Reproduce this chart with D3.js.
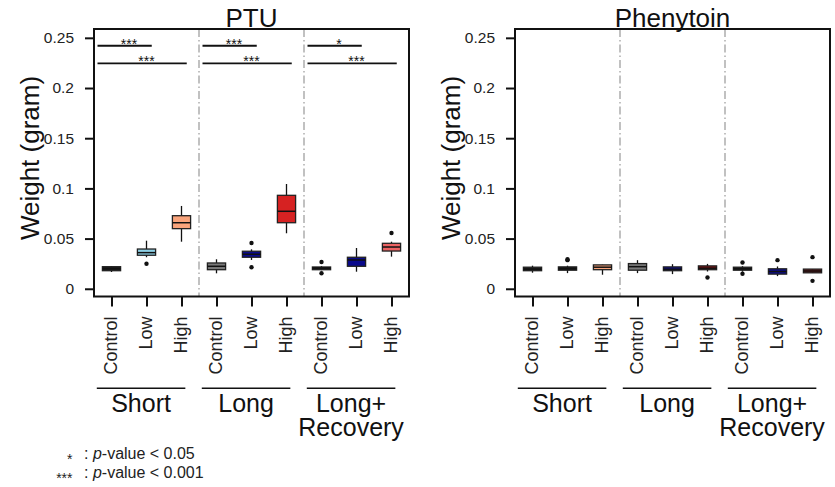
<!DOCTYPE html>
<html>
<head>
<meta charset="utf-8">
<script src="https://cdn.jsdelivr.net/npm/d3@7"></script>
<style>
  body { margin: 0; background: #fff; }
  svg { display: block; font-family: "Liberation Sans", Arial, sans-serif; }
</style>
</head>
<body>
<svg width="835" height="487"></svg>
<script>
// categories and groups
const categories = ["Control", "Low", "High"];
const groups = [["Short"], ["Long"], ["Long+", "Recovery"]];
const yTicks = [0, 0.05, 0.1, 0.15, 0.2, 0.25];
const yTickLabels = ["0", "0.05", "0.1", "0.15", "0.2", "0.25"];

// PTU box stats (9 boxes: Short C/L/H, Long C/L/H, Long+Recovery C/L/H)
const ptuQ1     = [0.0180, 0.0334, 0.0599, 0.0190, 0.0314, 0.0658, 0.0190, 0.0224, 0.0376];
const ptuMedian = [0.0200, 0.0360, 0.0658, 0.0224, 0.0344, 0.0772, 0.0205, 0.0287, 0.0416];
const ptuQ3     = [0.0220, 0.0396, 0.0728, 0.0257, 0.0374, 0.0931, 0.0217, 0.0314, 0.0453];
const ptuLow    = [0.0167, 0.0314, 0.0469, 0.0154, 0.0287, 0.0553, 0.0185, 0.0170, 0.0320];
const ptuHigh   = [0.0227, 0.0479, 0.0825, 0.0294, 0.0393, 0.1044, 0.0225, 0.0406, 0.0469];
const ptuOutliers = [[], [0.025], [], [], [0.0456, 0.0214], [], [0.0267, 0.0154], [], [0.0556]];

// Phenytoin box stats
const phenQ1     = [0.0180, 0.0185, 0.0190, 0.0185, 0.0180, 0.0190, 0.0185, 0.0146, 0.0159];
const phenMedian = [0.0195, 0.0200, 0.0215, 0.0220, 0.0195, 0.0205, 0.0200, 0.0172, 0.0177];
const phenQ3     = [0.0215, 0.0218, 0.0238, 0.0251, 0.0218, 0.0228, 0.0215, 0.0199, 0.0196];
const phenLow    = [0.0160, 0.0156, 0.0140, 0.0156, 0.0146, 0.0172, 0.0170, 0.0126, 0.0159];
const phenHigh   = [0.0230, 0.0230, 0.0240, 0.0285, 0.0245, 0.0248, 0.0225, 0.0222, 0.0196];
const phenOutliers = [[], [0.0295, 0.0285], [], [], [], [0.0112], [0.0261, 0.0149], [0.0285], [0.0315, 0.0079]];

// significance labels per group (PTU only): [Control vs Low, Control vs High]
const ptuSignif = [["***", "***"], ["***", "***"], ["*", "***"]];

const ptuColors  = ["#1a1a1a", "#8dd0e6", "#f9a47c", "#7a7a7a", "#0a0a8c", "#d62222", "#1a1a1a", "#0a0a8c", "#ec6262"];
const phenColors = ["#1a1a1a", "#1a1a1a", "#f9a47c", "#7a7a7a", "#0a0a8c", "#800e0e", "#1a1a1a", "#0a0a8c", "#7a1414"];

const svg = d3.select("svg");
const font = "'Liberation Sans', Arial, sans-serif";

const y = d3.scaleLinear().domain([-0.0077, 0.2588]).range([296.5, 29]);

function drawPanel(x0, title, q1, med, q3, lo, hi, outl, colors, signif) {
    const x = d3.scaleLinear().domain([0.5, 9.5]).range([x0, x0 + 315]);
    const g = svg.append("g");
    const bw = x(0.76) - x(0.5);

    // group separators
    [3.5, 6.5].forEach(s => {
        g.append("line")
            .attr("x1", x(s)).attr("x2", x(s))
            .attr("y1", y.range()[1]).attr("y2", y.range()[0])
            .attr("stroke", "#a0a0a0").attr("stroke-width", 1.3)
            .attr("stroke-dasharray", "8,3,1.5,3");
    });

    // boxes
    d3.range(9).forEach(i => {
        const cx = x(i + 1);
        g.append("line")
            .attr("x1", cx).attr("x2", cx)
            .attr("y1", y(hi[i])).attr("y2", y(lo[i]))
            .attr("stroke", "#111").attr("stroke-width", 1.3);
        g.append("rect")
            .attr("x", cx - bw).attr("width", bw * 2)
            .attr("y", y(q3[i])).attr("height", Math.max(1, y(q1[i]) - y(q3[i])))
            .attr("fill", colors[i])
            .attr("stroke", "#222").attr("stroke-width", 1.3);
        g.append("line")
            .attr("x1", cx - bw).attr("x2", cx + bw)
            .attr("y1", y(med[i])).attr("y2", y(med[i]))
            .attr("stroke", "#111").attr("stroke-width", 1.5);
        outl[i].forEach(v => {
            g.append("circle")
                .attr("cx", cx).attr("cy", y(v)).attr("r", 2.2)
                .attr("fill", "#111");
        });
    });

    // significance lines
    if (signif) {
        signif.forEach((labs, k) => {
            const b = k * 3;
            [[0.2421, b + 2.15, b + 1.5, labs[0]], [0.2246, b + 3.15, b + 2.0, labs[1]]].forEach(d => {
                g.append("line")
                    .attr("x1", x(b + 0.6)).attr("x2", x(d[1]))
                    .attr("y1", y(d[0])).attr("y2", y(d[0]))
                    .attr("stroke", "#111").attr("stroke-width", 1.8);
                g.append("text")
                    .attr("x", x(d[2])).attr("y", y(d[0]) + 3)
                    .attr("text-anchor", "middle")
                    .style("font-size", "14px").attr("fill", "#111")
                    .text(d[3]);
            });
        });
    }

    // y axis
    const ya = g.append("g")
        .attr("transform", `translate(${x0},0)`)
        .call(d3.axisLeft(y).tickValues(yTicks)
            .tickFormat((d, i) => yTickLabels[i]).tickSize(9).tickPadding(11));
    ya.select(".domain").remove();
    ya.selectAll("line").attr("stroke", "#111").attr("stroke-width", 2);
    ya.selectAll("text").style("font-size", "15.5px").style("font-family", font).attr("fill", "#222");

    // x axis
    const xa = g.append("g")
        .attr("transform", `translate(0,${y.range()[0]})`)
        .call(d3.axisBottom(x).tickValues(d3.range(1, 10)).tickFormat("").tickSize(10));
    xa.select(".domain").remove();
    xa.selectAll("line").attr("stroke", "#111").attr("stroke-width", 2);

    d3.range(9).forEach(i => {
        g.append("text")
            .attr("transform", `translate(${x(i + 1)},316.5) rotate(-90)`)
            .attr("text-anchor", "end").attr("dy", "0.3em")
            .style("font-size", "18px").attr("fill", "#222")
            .text(categories[i % 3]);
    });

    // group underline + labels
    groups.forEach((lines, k) => {
        const a = x(k * 3 + 0.58), b = x(k * 3 + 3.11);
        g.append("line")
            .attr("x1", a).attr("x2", b).attr("y1", 388.3).attr("y2", 388.3)
            .attr("stroke", "#111").attr("stroke-width", 1.6);
        const t = g.append("text")
            .attr("x", (a + b) / 2).attr("y", 411.5)
            .attr("text-anchor", "middle")
            .style("font-size", "25px").attr("fill", "#111");
        lines.forEach((s, j) => {
            t.append("tspan")
                .attr("x", (a + b) / 2).attr("dy", j ? 24.5 : 0)
                .text(s);
        });
    });

    // frame
    g.append("rect")
        .attr("x", x0).attr("y", y.range()[1])
        .attr("width", 315).attr("height", y.range()[0] - y.range()[1])
        .attr("fill", "none").attr("stroke", "#111").attr("stroke-width", 2);

    // title and y label
    g.append("text")
        .attr("x", x0 + 157.5).attr("y", 26.5).attr("text-anchor", "middle")
        .style("font-size", "26px").attr("fill", "#111").text(title);
    g.append("text")
        .attr("transform", `translate(${x0 - 55.5},158) rotate(-90)`)
        .attr("text-anchor", "middle")
        .style("font-size", "26px").attr("fill", "#111").text("Weight (gram)");
}

drawPanel(94, "PTU", ptuQ1, ptuMedian, ptuQ3, ptuLow, ptuHigh, ptuOutliers, ptuColors, ptuSignif);
drawPanel(515, "Phenytoin", phenQ1, phenMedian, phenQ3, phenLow, phenHigh, phenOutliers, phenColors, null);

// legend
const legend = [["*", "0.05", 459], ["***", "0.001", 477.5]];
legend.forEach(d => {
    svg.append("text")
        .attr("x", 72.5).attr("y", d[2] + 5).attr("text-anchor", "end")
        .style("font-size", "14px").attr("fill", "#222").text(d[0]);
    const t = svg.append("text")
        .attr("x", 84).attr("y", d[2])
        .style("font-size", "16px").attr("fill", "#222");
    t.append("tspan").text(": ");
    t.append("tspan").style("font-style", "italic").text("p");
    t.append("tspan").text("-value < " + d[1]);
});
</script>
</body>
</html>
